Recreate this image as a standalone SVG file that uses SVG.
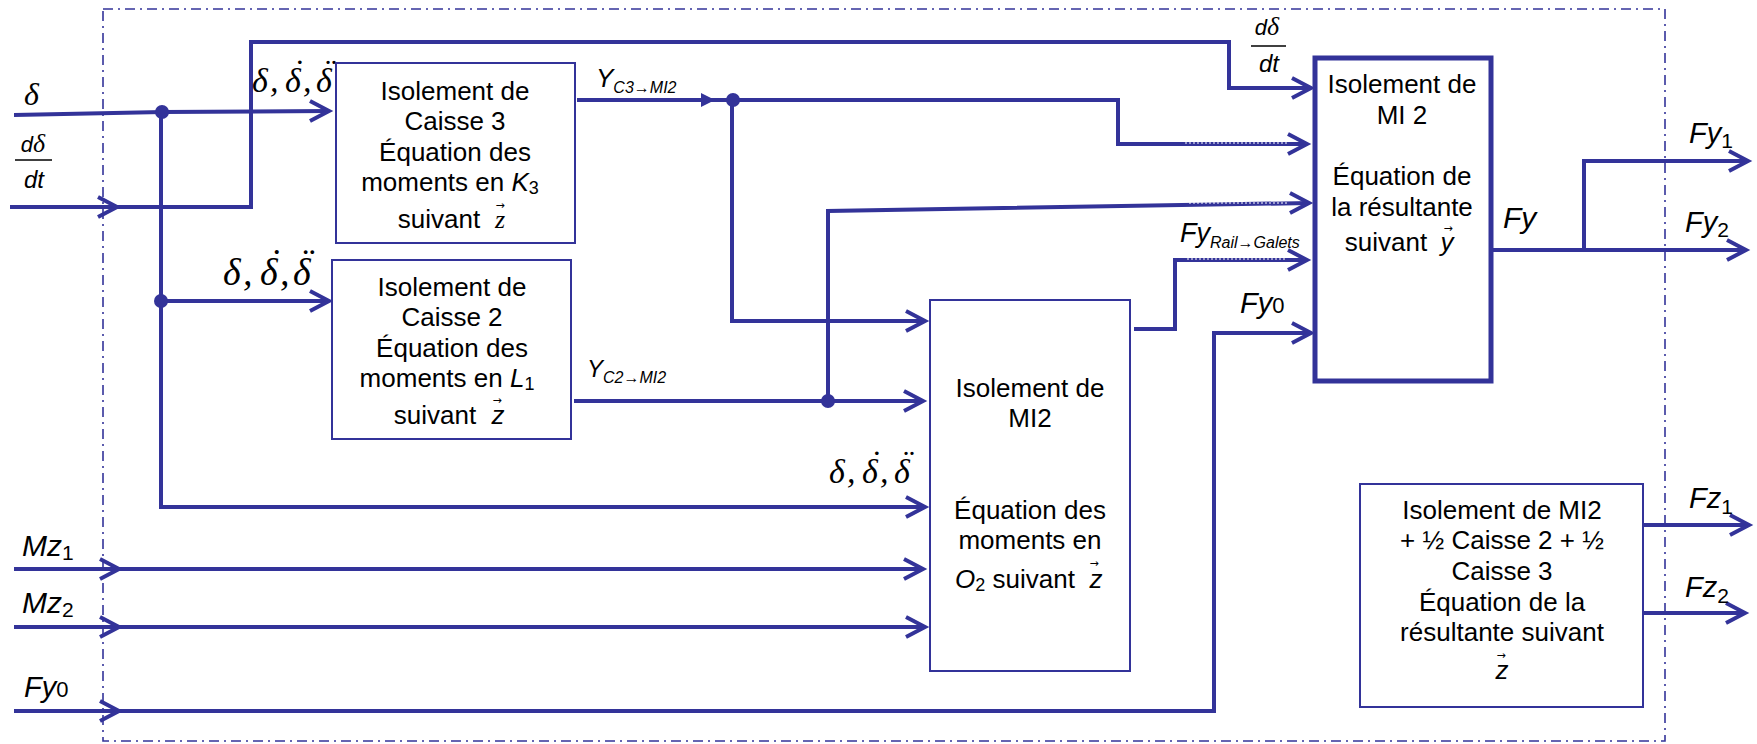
<svg xmlns="http://www.w3.org/2000/svg" width="1757" height="744" viewBox="0 0 1757 744">
<style>
.ln{stroke:#333399;stroke-width:4;fill:none}
.bx{stroke:#333399;stroke-width:2;fill:#fff}
.bxk{stroke:#333399;stroke-width:5;fill:#fff}
.dd{stroke:#333399;stroke-width:1.6;fill:none;stroke-dasharray:10 5 2 5}
.dot{fill:#333399}
.wd{stroke:#fff;stroke-width:1.2;fill:none;stroke-dasharray:2 2}
.t{font-family:"Liberation Sans",Arial,sans-serif;font-size:26px;fill:#000;text-anchor:middle}
.s{font-family:"Liberation Sans",Arial,sans-serif;fill:#000}
.i{font-style:italic}
.g{font-family:"Liberation Serif","Times New Roman",serif;font-style:italic;fill:#000}
.va{font-family:"DejaVu Sans",sans-serif;font-size:11px;fill:#000;text-anchor:middle}
.bar{stroke:#000;stroke-width:1.5}
</style>
<defs>
<path id="chev" d="M-19,-10 L0,0 L-19,10" class="ln"/>
</defs>
<rect width="1757" height="744" fill="#fff"/>
<rect id="frame" x="103" y="9" width="1562" height="732" class="dd"/>

<g id="connectors">
<path class="ln" d="M14,115 L163,112 L329,111"/>
<path class="ln" d="M161,111 V507 H925"/>
<path class="ln" d="M161,301 H329"/>
<path class="ln" d="M10,207 H251 V42 H1229 V88 H1311"/>
<path class="ln" d="M577,100 H1118 V144 H1307"/>
<path class="ln" d="M732,100 V321 H925"/>
<path class="ln" d="M574,401 H923"/>
<path class="ln" d="M828,401 V211 L1309,203"/>
<path class="ln" d="M1134,329 H1175 V260 H1307"/>
<path class="ln" d="M14,569 H923"/>
<path class="ln" d="M14,627 H925"/>
<path class="ln" d="M14,711 H1214 V333 H1311"/>
<path class="ln" d="M1493,250 H1746"/>
<path class="ln" d="M1584,250 V161 H1748"/>
<path class="ln" d="M1643,525 H1749"/>
<path class="ln" d="M1643,613 H1745"/>
<path class="wd" d="M1185,143 H1287"/>
<path class="wd" d="M1189,203 H1287"/>
<path class="wd" d="M1187,259 H1287"/>
<path d="M701,93 L715,100 L701,107 Z" fill="#333399"/>
<circle class="dot" cx="162" cy="112" r="7"/>
<circle class="dot" cx="161" cy="301" r="7"/>
<circle class="dot" cx="733" cy="100" r="7"/>
<circle class="dot" cx="828" cy="401" r="7"/>
<use href="#chev" x="117" y="207"/>
<use href="#chev" x="329" y="111"/>
<use href="#chev" x="329" y="301"/>
<use href="#chev" x="1311" y="88"/>
<use href="#chev" x="1307" y="144"/>
<use href="#chev" x="1309" y="203"/>
<use href="#chev" x="1307" y="260"/>
<use href="#chev" x="1311" y="333"/>
<use href="#chev" x="925" y="321"/>
<use href="#chev" x="923" y="401"/>
<use href="#chev" x="925" y="507"/>
<use href="#chev" x="923" y="569"/>
<use href="#chev" x="925" y="627"/>
<use href="#chev" x="119" y="569"/>
<use href="#chev" x="119" y="627"/>
<use href="#chev" x="119" y="711"/>
<use href="#chev" x="1746" y="250"/>
<use href="#chev" x="1748" y="161"/>
<use href="#chev" x="1749" y="525"/>
<use href="#chev" x="1745" y="613"/>
</g>

<g id="labels">
<text class="g" x="24" y="105" font-size="32">δ</text>
<text class="s i" x="33" y="152" font-size="22" text-anchor="middle">d<tspan class="g" font-size="26">δ</tspan></text>
<line class="bar" x1="15" y1="160" x2="52" y2="160"/>
<text class="s i" x="34" y="188" font-size="24" text-anchor="middle">dt</text>

<text class="g" y="92" font-size="34"><tspan x="252">δ</tspan><tspan x="270">,</tspan><tspan x="285">δ</tspan><tspan x="303">,</tspan><tspan x="316">δ</tspan></text>
<text class="g" y="83" font-size="34"><tspan x="292">˙</tspan><tspan x="323">¨</tspan></text>

<text class="g" y="285" font-size="38"><tspan x="223">δ</tspan><tspan x="243">,</tspan><tspan x="260">δ</tspan><tspan x="280">,</tspan><tspan x="293">δ</tspan></text>
<text class="g" y="275" font-size="38"><tspan x="268">˙</tspan><tspan x="300">¨</tspan></text>

<text class="g" y="483" font-size="34"><tspan x="829">δ</tspan><tspan x="847">,</tspan><tspan x="862">δ</tspan><tspan x="880">,</tspan><tspan x="894">δ</tspan></text>
<text class="g" y="474" font-size="34"><tspan x="869">˙</tspan><tspan x="901">¨</tspan></text>

<text class="s i" x="596" y="87" font-size="26">Y<tspan font-size="16" dy="6">C3→MI2</tspan></text>
<text class="s i" x="587" y="377" font-size="24">Y<tspan font-size="16" dy="6">C2→MI2</tspan></text>
<text class="s i" x="1267" y="35" font-size="22" text-anchor="middle">d<tspan class="g" font-size="26">δ</tspan></text>
<line class="bar" x1="1251" y1="46" x2="1286" y2="46"/>
<text class="s i" x="1269" y="72" font-size="24" text-anchor="middle">dt</text>
<text class="s i" x="1180" y="242" font-size="27">Fy<tspan font-size="16" dy="6">Rail→Galets</tspan></text>
<text class="s i" x="1240" y="313" font-size="29">Fy<tspan font-size="22" font-style="normal">0</tspan></text>
<text class="s i" x="1503" y="228" font-size="30">Fy</text>
<text class="s i" x="1689" y="143" font-size="29">Fy<tspan font-size="21" font-style="normal" dy="5">1</tspan></text>
<text class="s i" x="1685" y="232" font-size="29">Fy<tspan font-size="21" font-style="normal" dy="5">2</tspan></text>
<text class="s i" x="1689" y="508" font-size="29">Fz<tspan font-size="21" font-style="normal" dy="6">1</tspan></text>
<text class="s i" x="1685" y="597" font-size="29">Fz<tspan font-size="21" font-style="normal" dy="6">2</tspan></text>
<text class="s i" x="22" y="556" font-size="30">Mz<tspan font-size="21" font-style="normal" dy="4">1</tspan></text>
<text class="s i" x="22" y="613" font-size="30">Mz<tspan font-size="21" font-style="normal" dy="4">2</tspan></text>
<text class="s i" x="24" y="697" font-size="29">Fy<tspan font-size="22" font-style="normal">0</tspan></text>
</g>

<g id="caisse3">
<rect class="bx" x="336" y="63" width="239" height="180"/>
<text class="t" x="455" y="100">Isolement de</text>
<text class="t" x="455" y="130">Caisse 3</text>
<text class="t" x="455" y="161">Équation des</text>
<text class="t" x="450" y="191">moments en <tspan class="i">K</tspan><tspan font-size="18" dy="3">3</tspan></text>
<text class="t" x="439" y="228">suivant</text>
<text class="g" x="500" y="228" font-size="26" font-style="normal" text-anchor="middle">z</text>
<text class="va" x="500" y="209">→</text>
</g>

<g id="caisse2">
<rect class="bx" x="332" y="260" width="239" height="179"/>
<text class="t" x="452" y="296">Isolement de</text>
<text class="t" x="452" y="326">Caisse 2</text>
<text class="t" x="452" y="357">Équation des</text>
<text class="t" x="447" y="387">moments en <tspan class="i">L</tspan><tspan font-size="18" dy="3">1</tspan></text>
<text class="t" x="435" y="424">suivant</text>
<text class="s i" x="498" y="424" font-size="26" text-anchor="middle">z</text>
<text class="va" x="497" y="404">→</text>
</g>

<g id="mi2">
<rect class="bx" x="930" y="300" width="200" height="371"/>
<text class="t" x="1030" y="397">Isolement de</text>
<text class="t" x="1030" y="427">MI2</text>
<text class="t" x="1030" y="519">Équation des</text>
<text class="t" x="1030" y="549">moments en</text>
<text class="t" x="1015" y="588"><tspan class="i">O</tspan><tspan font-size="18" dy="3">2</tspan><tspan dy="-3"> suivant</tspan></text>
<text class="s i" x="1096" y="588" font-size="26" text-anchor="middle">z</text>
<text class="va" x="1094" y="567">→</text>
</g>

<g id="mi2res">
<rect class="bxk" x="1315" y="58" width="176" height="323"/>
<text class="t" x="1402" y="93">Isolement de</text>
<text class="t" x="1402" y="124">MI 2</text>
<text class="t" x="1402" y="185">Équation de</text>
<text class="t" x="1402" y="216">la résultante</text>
<text class="t" x="1386" y="251">suivant</text>
<text class="s i" x="1447" y="251" font-size="26" text-anchor="middle">y</text>
<text class="va" x="1448" y="232">→</text>
</g>

<g id="fz">
<rect class="bx" x="1360" y="484" width="283" height="223"/>
<text class="t" x="1502" y="519">Isolement de MI2</text>
<text class="t" x="1502" y="549">+ ½ Caisse 2 + ½</text>
<text class="t" x="1502" y="580">Caisse 3</text>
<text class="t" x="1502" y="611">Équation de la</text>
<text class="t" x="1502" y="641">résultante suivant</text>
<text class="s i" x="1502" y="679" font-size="26" text-anchor="middle">z</text>
<text class="va" x="1501" y="659">→</text>
</g>
</svg>
